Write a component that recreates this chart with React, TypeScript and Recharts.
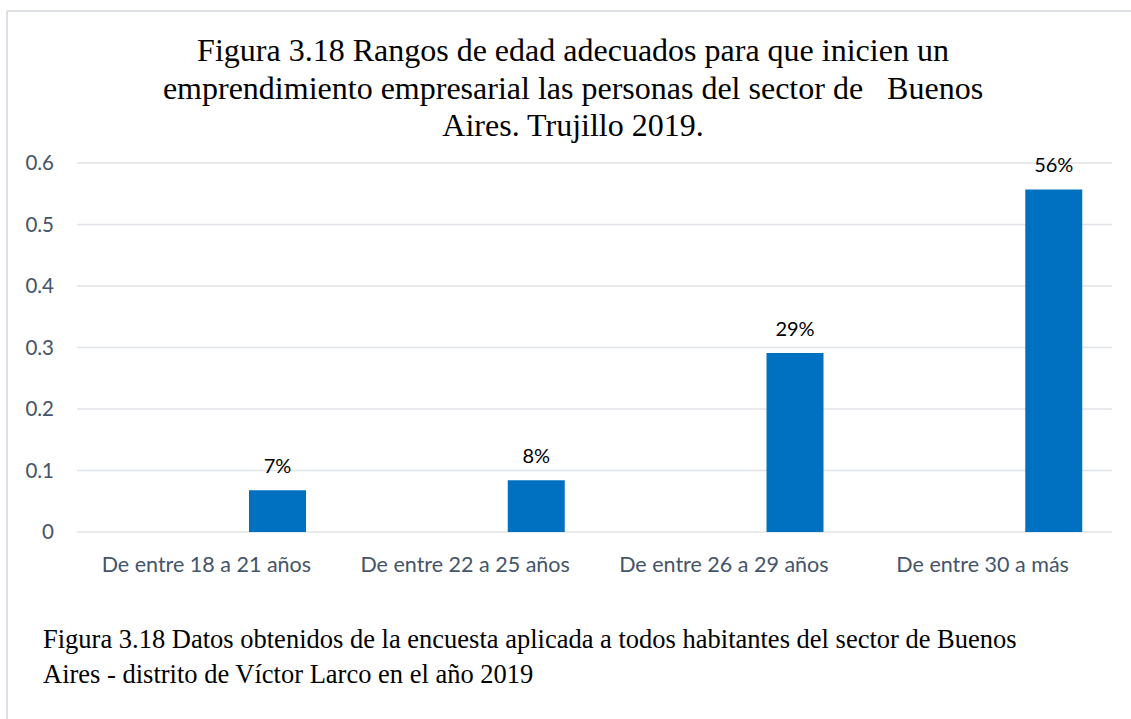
import React from "react";
import { BarChart, Bar, XAxis, YAxis, CartesianGrid, LabelList } from "recharts";

const categories = [
  "De entre 18 a 21 años",
  "De entre 22 a 25 años",
  "De entre 26 a 29 años",
  "De entre 30 a más",
];
// first series is empty in the original sheet, it only shifts the bars to the right
const blankValues: (number | null)[] = [null, null, null, null];
const shareValues = [0.068, 0.084, 0.291, 0.557];
const yTicks = [0, 0.1, 0.2, 0.3, 0.4, 0.5, 0.6];

const titleLines = [
  "Figura 3.18 Rangos de edad adecuados para que inicien un",
  "emprendimiento empresarial las personas del sector de   Buenos",
  "Aires. Trujillo 2019.",
];
const captionLines = [
  "Figura 3.18 Datos obtenidos de la encuesta aplicada a todos habitantes del sector de Buenos",
  "Aires - distrito de Víctor Larco en el año 2019",
];

const data = categories.map((name, i) => ({
  name,
  blank: blankValues[i],
  value: shareValues[i],
}));

const AXIS_TEXT = "#44546A";
const BAR_BLUE = "#0070C0";
const SANS = "Lato, 'Open Sans', sans-serif";
const SERIF = "'Liberation Serif', 'Times New Roman', serif";

const pct = (v: unknown) => `${Math.round(Number(v) * 100)}%`;

export default function App() {
  return (
    <div
      style={{
        position: "absolute",
        left: 0,
        top: 0,
        width: 1131,
        height: 719,
        background: "#fff",
        overflow: "hidden",
      }}
    >
      <BarChart
        width={1131}
        height={719}
        data={data}
        margin={{ top: 163, right: 19, bottom: 147, left: 17 }}
        barSize={57}
        barGap={86}
      >
        <CartesianGrid vertical={false} stroke="#E0E3E8" strokeWidth={1.5} />
        <XAxis
          dataKey="name"
          axisLine={false}
          tickLine={false}
          tickSize={0}
          tickMargin={25}
          height={40}
          interval={0}
          tick={{ fill: AXIS_TEXT, fontSize: 21.5, fontFamily: SANS }}
        />
        <YAxis
          width={60}
          domain={[0, 0.6]}
          ticks={yTicks}
          axisLine={false}
          tickLine={false}
          tickSize={0}
          tickMargin={23}
          tick={{ fill: AXIS_TEXT, fontSize: 20.5, fontFamily: SANS }}
        />
        <Bar dataKey="blank" fill={BAR_BLUE} isAnimationActive={false} />
        <Bar dataKey="value" fill={BAR_BLUE} isAnimationActive={false}>
          <LabelList
            dataKey="value"
            position="top"
            offset={17}
            formatter={pct}
            style={{ fill: "#000", fontSize: 20, fontFamily: SANS }}
          />
        </Bar>
      </BarChart>

      <svg
        width={1131}
        height={719}
        style={{ position: "absolute", left: 0, top: 0, pointerEvents: "none" }}
      >
        <line x1={7} y1={11} x2={1131} y2={11} stroke="#DDE1E7" strokeWidth={2} />
        <line x1={7} y1={11} x2={7} y2={719} stroke="#DDE1E7" strokeWidth={2} />
        {titleLines.map((t, i) => (
          <text
            key={t}
            x={573}
            y={61 + i * 37.5}
            textAnchor="middle"
            fontFamily={SERIF}
            fontSize={32}
            fill="#000"
            style={{ whiteSpace: "pre" }}
          >
            {t}
          </text>
        ))}
        {captionLines.map((t, i) => (
          <text
            key={t}
            x={43}
            y={648 + i * 35}
            fontFamily={SERIF}
            fontSize={26.5}
            fill="#000"
          >
            {t}
          </text>
        ))}
      </svg>
    </div>
  );
}
